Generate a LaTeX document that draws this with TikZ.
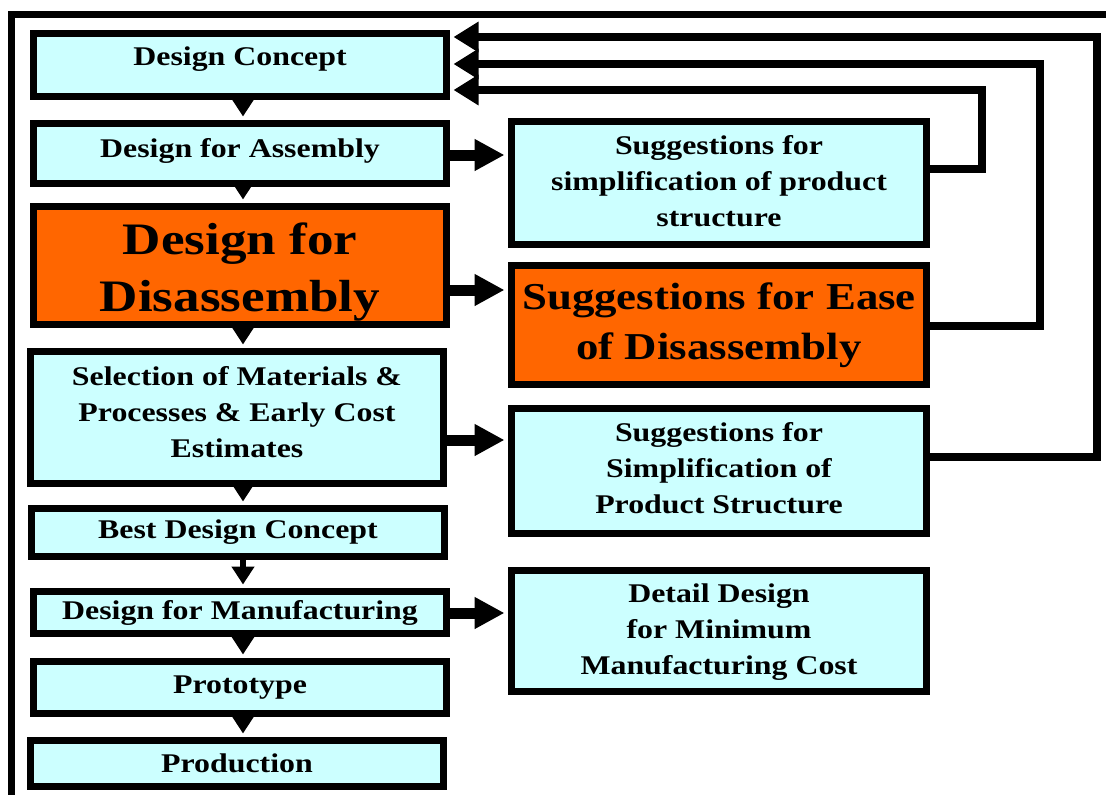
\documentclass[tikz,border=0pt]{standalone}
\usepackage{fontspec}
\setmainfont{Liberation Serif}[FakeStretch=1.18]
\usetikzlibrary{arrows.meta}
\definecolor{boxcyan}{HTML}{CCFFFF}
\definecolor{boxorange}{HTML}{FF6600}
% shift the ink of a label without changing its box
\newcommand{\liftby}[2]{\raisebox{#1}[\height][\depth]{#2}}
\newcommand{\stackedlines}[1]{\parbox{400pt}{\centering #1}}
\begin{document}
\begin{tikzpicture}[x=1pt,y=-1pt,
  box/.style={draw=black, line width=7pt, fill=boxcyan, inner sep=0pt, align=center,
              font=\bfseries\fontsize{27}{36}\selectfont},
  hot/.style={box, fill=boxorange},
  downarrow/.style={line width=6pt, -{Triangle[length=18pt,width=22pt]}, shorten >=3.5pt},
  sidearrow/.style={line width=11pt, -{Triangle[length=30pt,width=30pt]}, shorten >=3.5pt},
  feedback/.style={line width=8pt, line join=miter, -{Triangle[length=25pt,width=29pt]}, shorten >=3.5pt},
  frame/.style={line width=7pt}]
\useasboundingbox (0,0) rectangle (1106,795);
\clip (0,0) rectangle (1106,795);

% outer frame
\draw[frame] (11.5,800) -- (11.5,14) -- (1110,14);

% main design flow
\node[box, minimum width=413pt, minimum height=63pt]  (dc)    at (240,65)    {\liftby{6pt}{Design Concept}};
\node[box, minimum width=413pt, minimum height=60pt]  (dfa)   at (240,153.5) {\liftby{3pt}{Design for Assembly}};
\node[hot, minimum width=413pt, minimum height=118pt,
      font=\bfseries\fontsize{45}{57}\selectfont]      (dfd)   at (240,265.5)
      {\liftby{-7pt}{\stackedlines{Design for\\Disassembly}}};
\node[box, minimum width=413pt, minimum height=132pt] (sel)   at (237,417.5)
      {\liftby{5pt}{\stackedlines{Selection of Materials \&\\Processes \& Early Cost\\Estimates}}};
\node[box, minimum width=413pt, minimum height=48pt]  (bdc)   at (238,532.5) {Best Design Concept};
\node[box, minimum width=413pt, minimum height=42pt]  (dfm)   at (240,612.5) {Design for Manufacturing};
\node[box, minimum width=413pt, minimum height=52pt]  (proto) at (240,687.5) {Prototype};
\node[box, minimum width=413pt, minimum height=46pt]  (prod)  at (237,763.5) {Production};

% suggestion boxes
\node[box, minimum width=415pt, minimum height=123pt] (sa) at (719,183)
      {\liftby{2pt}{\stackedlines{Suggestions for\\simplification of product\\structure}}};
\node[hot, minimum width=415pt, minimum height=119pt,
      font=\bfseries\fontsize{38}{50}\selectfont]      (sb) at (719,325) {Suggestions for Ease\\of Disassembly};
\node[box, minimum width=415pt, minimum height=125pt] (sc) at (719,471)
      {\liftby{3pt}{\stackedlines{Suggestions for\\Simplification of\\Product Structure}}};
\node[box, minimum width=415pt, minimum height=121pt] (sd) at (719,631)
      {\liftby{-1pt}{\stackedlines{Detail Design\\for Minimum\\Manufacturing Cost}}};

% downward flow arrows
\draw[downarrow] (dc.south -| 243,0)    -- (dfa.north -| 243,0);
\draw[downarrow] (dfa.south -| 243,0)   -- (dfd.north -| 243,0);
\draw[downarrow] (dfd.south -| 243,0)   -- (sel.north -| 243,0);
\draw[downarrow] (sel.south -| 243,0)   -- (bdc.north -| 243,0);
\draw[downarrow] (bdc.south -| 243,0)   -- (dfm.north -| 243,0);
\draw[downarrow] (dfm.south -| 243,0)   -- (proto.north -| 243,0);
\draw[downarrow] (proto.south -| 243,0) -- (prod.north -| 243,0);

% arrows to the suggestion boxes
\draw[sidearrow] (dfa.east |- 0,155) -- (sa.west |- 0,155);
\draw[sidearrow] (dfd.east |- 0,290) -- (sb.west |- 0,290);
\draw[sidearrow] (sel.east |- 0,440) -- (sc.west |- 0,440);
\draw[sidearrow] (dfm.east |- 0,613) -- (sd.west |- 0,613);

% feedback loops back to the design concept
\draw[feedback] (sa.east |- 0,169) -| (982,90)  -- (dc.east |- 0,90);
\draw[feedback] (sb.east |- 0,326) -| (1040,64) -- (dc.east |- 0,64);
\draw[feedback] (sc.east |- 0,457) -| (1097,37) -- (dc.east |- 0,37);
\end{tikzpicture}
\end{document}
